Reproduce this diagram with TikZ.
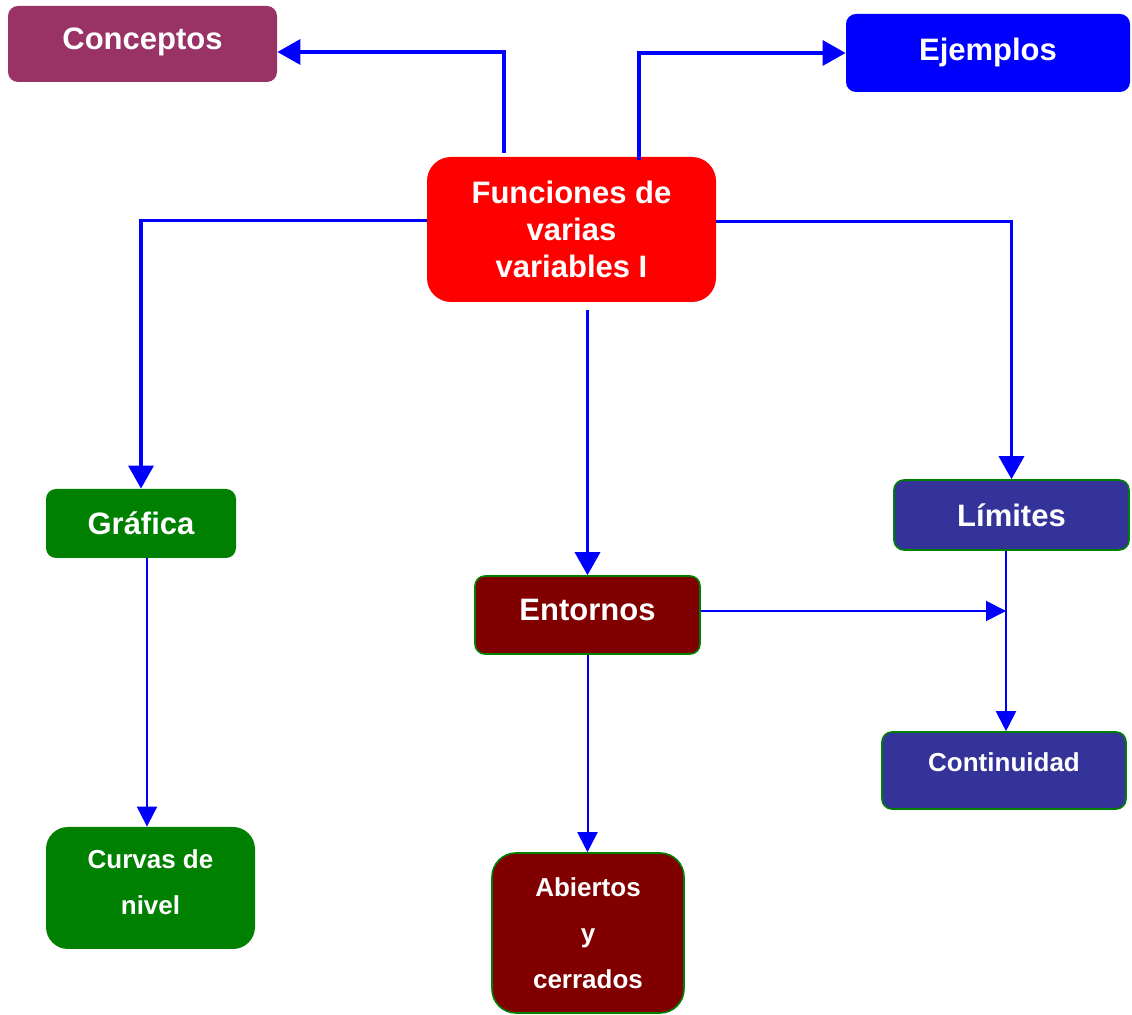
\documentclass[tikz,border=0pt]{standalone}
\usepackage{fontspec}
\setmainfont{Liberation Sans}
\usetikzlibrary{arrows.meta,calc}

\definecolor{conceptcol}{HTML}{993366}
\definecolor{redcol}{HTML}{FF0000}
\definecolor{bluecol}{HTML}{0000FF}
\definecolor{greencol}{HTML}{008000}
\definecolor{maroncol}{HTML}{800000}
\definecolor{indigocol}{HTML}{333399}

\begin{document}
\begin{tikzpicture}[
    x=0.5pt, y=-0.5pt,
    topic/.style={
        rounded corners=5pt,
        inner sep=0pt,
        align=center,
        text=white,
        font=\fontsize{15.5}{18.5}\selectfont\bfseries,
        text height=11.2pt,
        text depth=0pt
    },
    subtopic/.style={
        topic,
        font=\fontsize{13}{23}\selectfont\bfseries,
        text height=9.4pt
    },
    framed/.style={draw=greencol, line width=0.8pt},
    thickarr/.style={-{Triangle[length=11.5pt,width=12.5pt]}, line width=1.75pt, bluecol},
    thinarr/.style={-{Triangle[length=10pt,width=10pt]}, line width=1pt, bluecol}
]
\useasboundingbox (0,0) rectangle (1132,1015);

% --- Main topic ---
\node[topic, fill=redcol, rounded corners=12pt, minimum width=144.5pt, minimum height=72.5pt, text height=48.2pt]
    (fun) at (571.5,229.5) {Funciones de\\varias\\variables I};

% --- Top row ---
\node[topic, fill=conceptcol, minimum width=134.5pt, minimum height=38pt, text depth=6pt]
    (con) at (142.5,44) {Conceptos};
\node[topic, fill=bluecol, minimum width=142pt, minimum height=39pt, text depth=4pt]
    (eje) at (988,53) {Ejemplos};

% --- Second row ---
\node[topic, fill=greencol, minimum width=95pt, minimum height=34.5pt]
    (gra) at (141,523.5) {Gráfica};
\node[topic, framed, fill=maroncol, minimum width=112.5pt, minimum height=39pt, text depth=6pt]
    (ent) at (587.5,615) {Entornos};
\node[topic, framed, fill=indigocol, minimum width=117.5pt, minimum height=35pt]
    (lim) at (1011.5,515) {Límites};

% --- Bottom row ---
\node[subtopic, fill=greencol, rounded corners=11pt, minimum width=104.5pt, minimum height=61pt, text height=32.4pt, text depth=6pt]
    (cur) at (150.5,888) {Curvas de\\nivel};
\node[subtopic, framed, fill=maroncol, rounded corners=12pt, minimum width=96pt, minimum height=80pt, text height=55.4pt]
    (abi) at (588,933) {Abiertos\\y\\cerrados};
\node[subtopic, framed, fill=indigocol, minimum width=122pt, minimum height=38.5pt, text depth=8pt]
    (cont) at (1004,770.5) {Continuidad};

% --- Connectors from the main topic ---
\draw[thickarr] ($(fun.north)+(-67.5,-4)$) |- ($(con.east)+(0,8)$);
\draw[thickarr] ($(fun.north)+(67.5,3)$) |- (eje.west);
\draw[thickarr] ($(fun.west)+(0,-9)$) -| (gra.north);
\draw[thickarr] ($(fun.east)+(0,-8)$) -| (lim.north);
\coordinate (fs) at ($(ent.north |- fun.south)+(0,8)$);
\draw[thickarr] (fs) -- (ent.north);

% --- Lower connectors ---
\coordinate (gs) at ($(gra.south)+(6,0)$);
\draw[thinarr] (gs) -- (gs |- cur.north);
\draw[thinarr] (ent.south) -- (ent.south |- abi.north);
\coordinate (ls) at ($(lim.south)+(-5.5,0)$);
\draw[thinarr] (ls) -- (ls |- cont.north);
\coordinate (es) at ($(ent.east)+(0,-4)$);
\draw[thinarr] (es) -- (es -| ls);

\end{tikzpicture}
\end{document}
